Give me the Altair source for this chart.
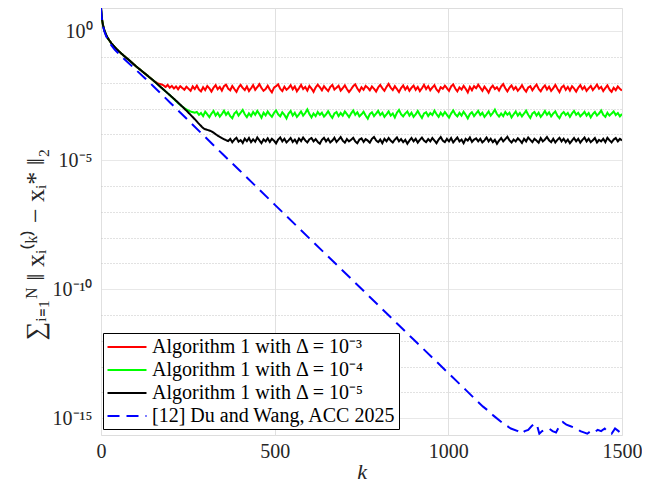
import altair as alt
import pandas as pd

SERIES = [
    "Algorithm 1 with Δ = 10⁻³",
    "Algorithm 1 with Δ = 10⁻⁴",
    "Algorithm 1 with Δ = 10⁻⁵",
    "[12] Du and Wang, ACC 2025",
]
COLORS = ["#ff0000", "#00ff00", "#000000", "#0000ff"]
DASHES = [[1, 0], [1, 0], [1, 0], [12, 7]]

# shared initial decay (log10 of error)
EARLY_K = [0, 3, 6, 10, 15, 20, 30, 40, 50, 60, 70, 80, 90, 100, 110, 120, 130, 140, 150]
EARLY_LOG = [0.90, 0.45, 0.22, 0.02, -0.15, -0.28, -0.47, -0.62, -0.76, -0.88, -1.00,
             -1.11, -1.23, -1.35, -1.46, -1.57, -1.68, -1.79, -1.90]

RED_TR_K = [156, 162, 168, 174]
RED_TR_LOG = [-1.96, -2.01, -2.04, -2.06]
RED_FLAT_LOG = [
    -2.10, -2.16, -2.08, -2.19, -2.12, -2.22, -2.14, -2.25, -2.13, -2.20, -2.27, -2.15, -2.23, -2.31, -2.14, -2.24, -2.11, -2.26, -2.33, -2.17,
    -2.28, -2.12, -2.21, -2.34, -2.19, -2.09, -2.25, -2.16, -2.30, -2.13, -2.07, -2.22, -2.29, -2.12, -2.24, -2.35, -2.18, -2.08, -2.20, -2.28,
    -2.14, -2.32, -2.21, -2.09, -2.27, -2.17, -2.05, -2.20, -2.31, -2.24, -2.11, -2.26, -2.37, -2.19, -2.13, -2.06, -2.23, -2.32, -2.15, -2.27,
    -2.20, -2.09, -2.25, -2.14, -2.33, -2.21, -2.08, -2.24, -2.16, -2.30, -2.12, -2.22, -2.35, -2.18, -2.07, -2.17, -2.29, -2.13, -2.23, -2.32,
    -2.16, -2.08, -2.26, -2.19, -2.11, -2.30, -2.21, -2.10, -2.24, -2.36, -2.25, -2.13, -2.06, -2.22, -2.33, -2.17, -2.27, -2.12, -2.19, -2.29,
    -2.14, -2.23, -2.34, -2.18, -2.08, -2.21, -2.31, -2.16, -2.04, -2.19, -2.28, -2.13, -2.24, -2.36, -2.20, -2.10, -2.26, -2.15, -2.31, -2.19,
    -2.11, -2.27, -2.16, -2.32, -2.21, -2.08, -2.24, -2.13, -2.29, -2.18, -2.09, -2.26, -2.35, -2.17, -2.23, -2.11, -2.21, -2.31, -2.14, -2.06,
    -2.22, -2.33, -2.18, -2.26, -2.12, -2.23, -2.37, -2.16, -2.29, -2.13, -2.21, -2.07, -2.19, -2.31, -2.15, -2.25, -2.38, -2.20, -2.11, -2.24,
    -2.17, -2.30, -2.14, -2.05, -2.21, -2.33, -2.19, -2.10, -2.26, -2.16, -2.31, -2.22, -2.09, -2.24, -2.34, -2.18, -2.13, -2.29, -2.17, -2.07,
    -2.23, -2.33, -2.19, -2.10, -2.26, -2.15, -2.31, -2.21, -2.08, -2.23, -2.36, -2.18, -2.11, -2.27, -2.16, -2.30, -2.13, -2.22, -2.34, -2.19,
    -2.09, -2.25, -2.15, -2.31, -2.21, -2.12, -2.28, -2.18, -2.07, -2.23, -2.16, -2.32, -2.20, -2.10, -2.26, -2.35, -2.19, -2.29, -2.14, -2.23,
    -2.30,
]

GREEN_TR_K = [160, 170, 180, 190, 200, 210, 220, 230, 240, 250, 260, 270]
GREEN_TR_LOG = [-2.02, -2.14, -2.26, -2.38, -2.50, -2.63, -2.76, -2.88, -2.98, -3.06, -3.12, -3.16]
GREEN_FLAT_LOG = [
    -3.13, -3.24, -3.17, -3.29, -3.12, -3.22, -3.33, -3.19, -3.09, -3.27, -3.16, -3.31, -3.21, -3.08, -3.24, -3.14, -3.29, -3.37, -3.19, -3.11,
    -3.27, -3.16, -3.05, -3.22, -3.33, -3.18, -3.29, -3.13, -3.24, -3.09, -3.21, -3.35, -3.16, -3.26, -3.11, -3.23, -3.32, -3.17, -3.07, -3.22,
    -3.30, -3.14, -3.24, -3.38, -3.19, -3.09, -3.27, -3.16, -3.32, -3.22, -3.11, -3.27, -3.17, -3.03, -3.21, -3.34, -3.19, -3.29, -3.13, -3.24,
    -3.16, -3.31, -3.22, -3.10, -3.25, -3.36, -3.19, -3.13, -3.29, -3.17, -3.27, -3.11, -3.21, -3.33, -3.19, -3.07, -3.24, -3.14, -3.30, -3.22,
    -3.12, -3.27, -3.39, -3.21, -3.14, -3.29, -3.19, -3.09, -3.25, -3.16, -3.32, -3.22, -3.11, -3.27, -3.19, -3.34, -3.16, -3.05, -3.22, -3.30,
    -3.19, -3.11, -3.27, -3.16, -3.32, -3.22, -3.09, -3.24, -3.36, -3.19, -3.14, -3.29, -3.17, -3.25, -3.08, -3.21, -3.32, -3.16, -3.27, -3.13,
    -3.24, -3.35, -3.19, -3.07, -3.22, -3.30, -3.16, -3.27, -3.12, -3.24, -3.38, -3.21, -3.14, -3.29, -3.19, -3.09, -3.25, -3.16, -3.32, -3.22,
    -3.11, -3.27, -3.17, -3.04, -3.21, -3.31, -3.19, -3.29, -3.13, -3.24, -3.16, -3.34, -3.22, -3.11, -3.27, -3.17, -3.30, -3.19, -3.08, -3.24,
    -3.36, -3.19, -3.13, -3.27, -3.16, -3.32, -3.22, -3.09, -3.24, -3.14, -3.30, -3.19, -3.11, -3.27, -3.37, -3.21, -3.13, -3.25, -3.17, -3.32,
    -3.19, -3.09, -3.24, -3.16, -3.30, -3.22, -3.12, -3.27, -3.17, -3.34, -3.21, -3.13, -3.27, -3.19, -3.07, -3.24, -3.32, -3.16, -3.27, -3.19,
    -3.11, -3.25, -3.17, -3.30, -3.21,
]

BLACK_TR_K = [160, 170, 180, 190, 200, 210, 220, 230, 240, 250, 260, 270, 280, 290, 295,
              300, 305, 310, 318, 325, 332, 340, 348, 355, 360]
BLACK_TR_LOG = [-2.02, -2.14, -2.26, -2.38, -2.50, -2.62, -2.74, -2.87, -3.00, -3.13, -3.27,
                -3.41, -3.56, -3.70, -3.76, -3.80, -3.82, -3.84, -3.88, -3.94, -4.01, -4.08,
                -4.14, -4.19, -4.22]
BLACK_FLAT_LOG = [
    -4.26, -4.17, -4.30, -4.20, -4.13, -4.28, -4.22, -4.33, -4.16, -4.26, -4.14, -4.30, -4.19, -4.28, -4.12, -4.23, -4.34, -4.19, -4.27, -4.15,
    -4.29, -4.17, -4.24, -4.35, -4.20, -4.12, -4.27, -4.17, -4.31, -4.23, -4.14, -4.29, -4.20, -4.33, -4.16, -4.26, -4.12, -4.23, -4.31, -4.19,
    -4.14, -4.27, -4.18, -4.29, -4.36, -4.21, -4.13, -4.27, -4.17, -4.31, -4.24, -4.13, -4.29, -4.20, -4.10, -4.24, -4.32, -4.18, -4.27, -4.21,
    -4.13, -4.27, -4.34, -4.20, -4.15, -4.29, -4.18, -4.24, -4.32, -4.17, -4.10, -4.23, -4.30, -4.20, -4.34, -4.17, -4.27, -4.14, -4.24, -4.31,
    -4.20, -4.12, -4.27, -4.18, -4.30, -4.21, -4.36, -4.24, -4.14, -4.27, -4.17, -4.32, -4.21, -4.12, -4.24, -4.30, -4.18, -4.27, -4.14, -4.24,
    -4.34, -4.20, -4.10, -4.24, -4.30, -4.17, -4.27, -4.14, -4.31, -4.21, -4.12, -4.27, -4.20, -4.34, -4.17, -4.24, -4.12, -4.29, -4.20, -4.15,
    -4.27, -4.17, -4.31, -4.23, -4.12, -4.27, -4.17, -4.30, -4.21, -4.36, -4.24, -4.14, -4.27, -4.18, -4.09, -4.23, -4.31, -4.20, -4.27, -4.15,
    -4.23, -4.33, -4.17, -4.27, -4.12, -4.21, -4.30, -4.17, -4.24, -4.32, -4.14, -4.27, -4.20, -4.10, -4.23, -4.30, -4.17, -4.31, -4.21, -4.13,
    -4.27, -4.17, -4.30, -4.20, -4.34, -4.24, -4.14, -4.27, -4.17, -4.32, -4.21, -4.12, -4.27, -4.17, -4.30, -4.23, -4.14, -4.31, -4.21, -4.27,
    -4.17, -4.30, -4.13, -4.23, -4.31, -4.20, -4.14, -4.27, -4.17, -4.24,
]

BLUE_K = [0, 3, 6, 10, 15, 20, 30, 40, 50, 60, 80, 100, 125, 150, 175, 200, 250, 300, 350, 400,
          500, 600, 700, 800, 900, 1000, 1050, 1080, 1100, 1112, 1130, 1156, 1180, 1200, 1210,
          1220, 1230, 1240, 1250, 1255, 1262, 1270, 1280, 1290, 1300, 1310, 1320, 1330, 1340,
          1350, 1360, 1370, 1380, 1390, 1400, 1410, 1420, 1430, 1440, 1450, 1460, 1470, 1480,
          1490, 1500]
BLUE_LOG = [0.90, 0.40, 0.18, -0.02, -0.20, -0.33, -0.55, -0.72, -0.86, -0.99,
            -1.24, -1.49, -1.80, -2.12, -2.45, -2.78, -3.44, -4.10, -4.76, -5.41,
            -6.72, -8.03, -9.33, -10.64, -11.95, -13.25, -13.90, -14.30, -14.55, -14.68,
            -14.90, -15.18, -15.40, -15.50, -15.60, -15.50, -15.45, -15.30, -15.20, -15.25,
            -15.60, -15.50, -15.45, -15.40, -15.50, -15.55, -15.30, -15.15, -15.25, -15.30,
            -15.35, -15.40, -15.50, -15.55, -15.60, -15.50, -15.55, -15.45, -15.50, -15.40,
            -15.55, -15.60, -15.40, -15.50, -15.62]

X_TICKS = [0, 500, 1000, 1500]
Y_TICKS = [1e0, 1e-1, 1e-2, 1e-3, 1e-4, 1e-5, 1e-6, 1e-7, 1e-8, 1e-9, 1e-10,
           1e-11, 1e-12, 1e-13, 1e-14, 1e-15]

rows = []


def add(name, ks, logs):
    for k, v in zip(ks, logs):
        rows.append({"k": k, "err": 10 ** v, "series": name})


add(SERIES[0], EARLY_K + RED_TR_K + list(range(180, 1501, 6)), EARLY_LOG + RED_TR_LOG + RED_FLAT_LOG)
add(SERIES[1], EARLY_K + GREEN_TR_K + list(range(276, 1501, 6)), EARLY_LOG + GREEN_TR_LOG + GREEN_FLAT_LOG)
add(SERIES[2], EARLY_K + BLACK_TR_K + list(range(366, 1501, 6)), EARLY_LOG + BLACK_TR_LOG + BLACK_FLAT_LOG)
add(SERIES[3], BLUE_K, BLUE_LOG)
df = pd.DataFrame(rows)

FONT = "Liberation Serif"
AX = "#262626"

legend = alt.Legend(
    title=None, orient="none", legendX=2, legendY=325,
    symbolType="M-2,0H2", symbolSize=380, symbolStrokeWidth=2, symbolOffset=10,
    labelFont=FONT, labelFontSize=20, labelColor="black", labelLimit=400, labelOffset=14,
    strokeColor="black", fillColor="white", padding=3, rowPadding=2, cornerRadius=0,
)

lbl = "round(log(datum.value)/LN10)"
y_label_expr = (
    f"{lbl} == 0 ? '10⁰' : {lbl} == -5 ? '10⁻⁵' : {lbl} == -10 ? '10⁻¹⁰' : "
    f"{lbl} == -15 ? '10⁻¹⁵' : ''"
)
minor_test = f"abs({lbl} % 5) > 0.5"

chart = alt.Chart(df).mark_line(strokeWidth=2, clip=True).encode(
    x=alt.X("k:Q", scale=alt.Scale(domain=[0, 1500], nice=False),
            axis=alt.Axis(values=X_TICKS, format="d", title="k", ticks=False, domain=False,
                          labelFlush=False,
                          labelFont=FONT, labelFontSize=20, labelColor=AX, labelPadding=6,
                          titleFont=FONT, titleFontSize=22, titleFontStyle="italic",
                          titleFontWeight="normal", titleColor=AX, titlePadding=0,
                          gridColor="#e0e0e0", gridWidth=1)),
    y=alt.Y("err:Q", scale=alt.Scale(type="log", domain=[10 ** -15.65, 10 ** 0.9], nice=False),
            axis=alt.Axis(values=Y_TICKS, labelExpr=y_label_expr, ticks=False, domain=False,
                          labelOverlap=False, labelFlush=False,
                          labelFont=FONT, labelFontSize=20, labelColor=AX,
                          labelPadding=9,
                          title="∑ᵢ₌₁ᴺ  ‖ xᵢ⁽ᵏ⁾ − xᵢ* ‖₂",
                          titleFont=FONT, titleFontSize=26, titleFontWeight="normal",
                          titleColor=AX, titleX=-66, titleY=236, titleAlign="center",
                          titleBaseline="middle",
                          gridColor={"condition": {"test": minor_test, "value": "#c4c4c4"}, "value": "#e0e0e0"},
                          gridDash={"condition": {"test": minor_test, "value": [1, 2]}, "value": [1, 0]})),
    color=alt.Color("series:N", scale=alt.Scale(domain=SERIES, range=COLORS), legend=legend),
    strokeDash=alt.StrokeDash("series:N", scale=alt.Scale(domain=SERIES, range=DASHES), legend=legend),
).properties(
    width=521, height=427,
    autosize=alt.AutoSizeParams(type="none"),
    padding={"left": 93, "top": 0, "right": 20, "bottom": 48},
).configure_view(stroke=AX, strokeWidth=1).configure(background="white")

chart.save("out.html", embed_options={"renderer": "svg", "actions": False})
